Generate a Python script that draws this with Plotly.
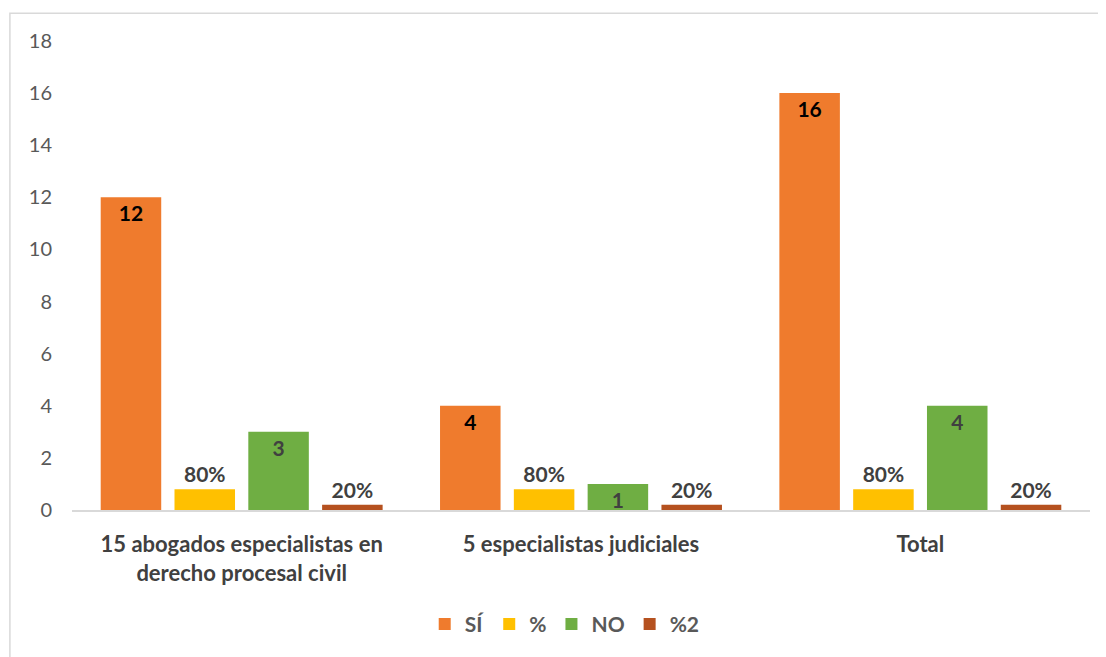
import plotly.graph_objects as go

categories = ["15 abogados especialistas en<br>derecho procesal civil",
              "5 especialistas judiciales", "Total"]
si_values = [12, 4, 16]
pct_values = [0.8, 0.8, 0.8]
pct_labels = ["80%", "80%", "80%"]
no_values = [3, 1, 4]
pct2_values = [0.2, 0.2, 0.2]
pct2_labels = ["20%", "20%", "20%"]
y_ticks = [0, 2, 4, 6, 8, 10, 12, 14, 16, 18]

FONT = "Lato, Open Sans, sans-serif"
lblfont = dict(family=FONT, size=21, color="#404040")

fig = go.Figure()
fig.add_trace(go.Bar(name="SÍ", x=categories, y=si_values,
                     text=[str(v) for v in si_values], textposition="inside",
                     insidetextanchor="end",
                     textfont=dict(family=FONT, size=21, color="#000000"),
                     marker=dict(color="#ef7b2d", line=dict(width=0))))
fig.add_trace(go.Bar(name="%", x=categories, y=pct_values,
                     text=pct_labels, textposition="outside",
                     textfont=lblfont,
                     marker=dict(color="#ffc000", line=dict(width=0))))
fig.add_trace(go.Bar(name="NO", x=categories, y=no_values,
                     text=[str(v) for v in no_values], textposition="inside",
                     insidetextanchor="end",
                     textfont=lblfont,
                     marker=dict(color="#6fae43", line=dict(width=0))))
fig.add_trace(go.Bar(name="%2", x=categories, y=pct2_values,
                     text=pct2_labels, textposition="outside",
                     textfont=lblfont,
                     marker=dict(color="#b5511f", line=dict(width=0))))

fig.update_traces(texttemplate="<b>%{text}</b>", cliponaxis=False,
                  constraintext="none", textangle=0)

fig.update_layout(
    width=1098, height=649,
    margin=dict(l=64, r=16, t=33, b=145),
    paper_bgcolor="white", plot_bgcolor="white",
    barmode="group", bargap=0.13, bargroupgap=0.18,
    font=dict(family=FONT, color="#595959"),
    xaxis=dict(showline=True, linecolor="#d9d9d9", linewidth=1.5,
               ticks="", showgrid=False, ticklabelstandoff=14,
               tickfont=dict(family=FONT, size=22, color="#404040")),
    yaxis=dict(range=[0, 18], tickvals=y_ticks, showgrid=False,
               zeroline=False, showline=False, ticks="",
               ticklabelstandoff=19,
               tickfont=dict(family=FONT, size=20, color="#595959")),
    legend=dict(orientation="h", x=0.484, xanchor="center", y=-0.244,
                yanchor="middle",
                font=dict(family=FONT, size=21, color="#595959"),
                itemwidth=30, traceorder="normal"),
    shapes=[dict(type="rect", xref="paper", yref="paper",
                 x0=-0.061, x1=1.0147, y0=-0.32, y1=1.059,
                 line=dict(color="#d9d9d9", width=1.5), layer="below")],
)
fig.update_xaxes(tickprefix="<b>", ticksuffix="</b>")
for t in fig.data:
    t.name = "<b>" + t.name + "</b>"

fig.write_html("out.html")
